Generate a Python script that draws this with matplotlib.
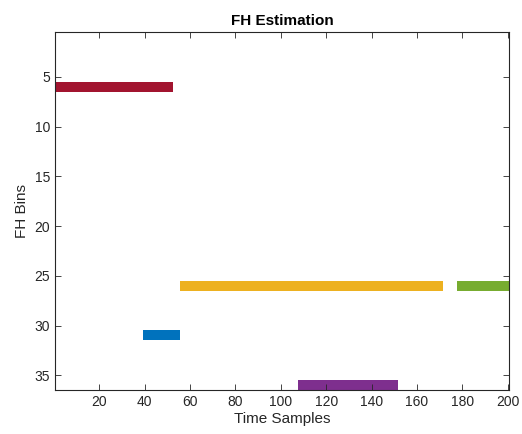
import numpy as np
import matplotlib.pyplot as plt

plt.rcParams['font.family'] = ['Liberation Sans', 'DejaVu Sans']

# FH bin occupied by each hop, first/last time sample
bins = [6, 31, 26, 26, 36]
t_start = [1, 40, 56, 178, 108]
t_end = [52, 55, 171, 200, 151]
colors = ['#A2142F', '#0072BD', '#EDB120', '#77AC30', '#7E2F8E']

fig = plt.figure(figsize=(5.22, 4.34), dpi=100)
ax = fig.add_axes([0.105, 0.101, 0.87, 0.825])

for b, s, e, c in zip(bins, t_start, t_end, colors):
    ax.barh(b, e - s + 1, left=s - 0.5, height=1, color=c, linewidth=0)

ax.set_xlim(0.5, 200.5)
ax.set_ylim(36.5, 0.5)
ax.set_xticks(np.arange(20, 201, 20))
ax.set_yticks(np.arange(5, 36, 5))

ax.tick_params(direction='in', length=4, width=0.6, top=True, right=True,
               labelsize=10, colors='#262626')
for sp in ax.spines.values():
    sp.set_linewidth(0.8)
    sp.set_color('#262626')

ax.set_xlabel('Time Samples', fontsize=11, color='#262626', labelpad=2)
ax.set_ylabel('FH Bins', fontsize=11, color='#262626', labelpad=4)
ax.set_title('FH Estimation', fontsize=11, fontweight='bold', pad=5)

fig.savefig('out.png', dpi=100)
